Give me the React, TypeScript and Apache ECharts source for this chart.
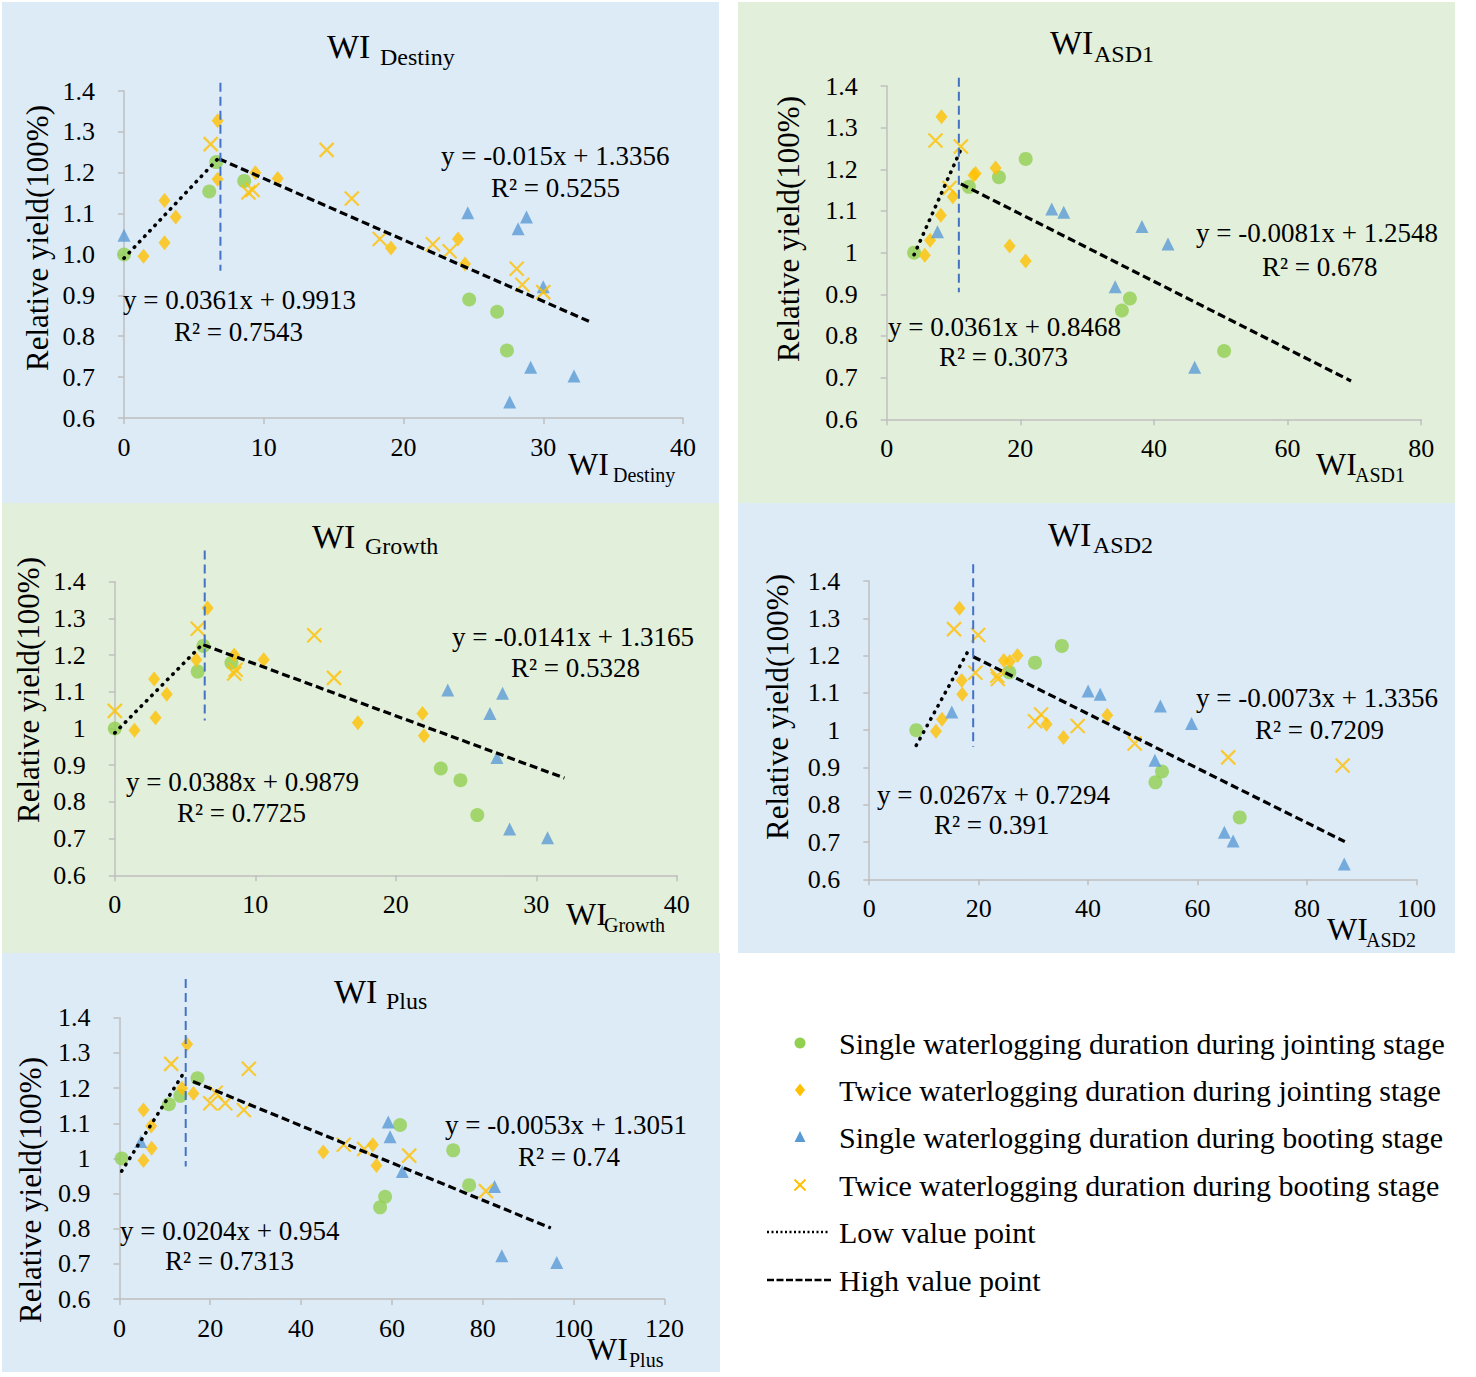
import React, { useEffect, useRef } from "react";
import * as echarts from "echarts";

const FONT = '"Liberation Serif", "Times New Roman", serif';
const C_SJ = "#92D050";
const C_TJ = "#FFC000";
const C_SB = "#5B9BD5";
const C_TB = "#FFC000";
const BG_BLUE = "#DDEBF7";
const BG_GREEN = "#E2EFDA";

// ---------- tick labels ----------
const yTicks = [0.6, 0.7, 0.8, 0.9, 1.0, 1.1, 1.2, 1.3, 1.4];
const xTicksDestiny = [0, 10, 20, 30, 40];
const xTicksASD1 = [0, 20, 40, 60, 80];
const xTicksGrowth = [0, 10, 20, 30, 40];
const xTicksASD2 = [0, 20, 40, 60, 80, 100];
const xTicksPlus = [0, 20, 40, 60, 80, 100, 120];

// ---------- series names ----------
const seriesNames = [
  "Single waterlogging duration during jointing stage",
  "Twice waterlogging duration during jointing stage",
  "Single waterlogging duration during booting stage",
  "Twice waterlogging duration during booting stage",
];
const lineNames = ["Low value point", "High value point"];

// ---------- WI Destiny ----------
const sjDestiny = [[0, 1.0], [6.1, 1.154], [6.6, 1.226], [8.6, 1.18], [24.7, 0.89], [26.7, 0.86], [27.4, 0.765]];
const tjDestiny = [[1.4, 0.996], [2.9, 1.132], [2.9, 1.029], [3.7, 1.092], [6.7, 1.327], [6.7, 1.184], [9.4, 1.2], [11.0, 1.186], [19.1, 1.016], [23.9, 1.038], [24.4, 0.977]];
const sbDestiny = [[0, 1.047], [24.6, 1.102], [28.2, 1.063], [28.8, 1.092], [30.0, 0.921], [29.1, 0.724], [32.2, 0.703], [27.6, 0.639]];
const tbDestiny = [[6.2, 1.27], [8.9, 1.152], [9.2, 1.158], [14.5, 1.256], [16.3, 1.137], [18.3, 1.038], [22.1, 1.025], [23.3, 1.008], [28.1, 0.965], [28.5, 0.926], [30.0, 0.908]];
const lowDestiny = [[0, 0.991], [6.8, 1.237]];
const highDestiny = [[6.8, 1.234], [33.5, 0.833]];
const splitDestiny = [[6.9, 1.42], [6.9, 0.96]];
const eqDestiny = ["y = 0.0361x + 0.9913", "R² = 0.7543", "y = -0.015x + 1.3356", "R² = 0.5255"];

// ---------- WI ASD1 ----------
const sjASD1 = [[4.1, 1.0], [12.3, 1.158], [16.8, 1.181], [20.8, 1.225], [36.4, 0.89], [35.2, 0.861], [50.5, 0.764]];
const tjASD1 = [[5.7, 0.994], [6.5, 1.03], [8.1, 1.09], [8.2, 1.326], [9.9, 1.134], [13.0, 1.186], [13.3, 1.19], [16.3, 1.203], [18.4, 1.016], [20.8, 0.98]];
const sbASD1 = [[7.6, 1.05], [24.7, 1.105], [26.5, 1.097], [38.2, 1.063], [42.1, 1.021], [34.2, 0.918], [46.1, 0.725]];
const tbASD1 = [[7.3, 1.269], [11.1, 1.255], [9.4, 1.155]];
const lowASD1 = [[4.1, 0.995], [11.0, 1.244]];
const highASD1 = [[11.1, 1.165], [69.5, 0.692]];
const splitASD1 = [[10.8, 1.42], [10.8, 0.905]];
const eqASD1 = ["y = 0.0361x + 0.8468", "R² = 0.3073", "y = -0.0081x + 1.2548", "R² = 0.678"];

// ---------- WI Growth ----------
const sjGrowth = [[0, 1.0], [5.9, 1.155], [6.3, 1.225], [8.3, 1.179], [23.2, 0.891], [24.6, 0.859], [25.8, 0.764]];
const tjGrowth = [[1.4, 0.995], [2.8, 1.135], [2.9, 1.029], [3.7, 1.093], [6.6, 1.328], [5.8, 1.187], [8.5, 1.2], [10.6, 1.187], [17.3, 1.016], [21.9, 1.041], [22.0, 0.98]];
const sbGrowth = [[23.7, 1.105], [27.6, 1.096], [26.7, 1.041], [27.2, 0.921], [28.1, 0.726], [30.8, 0.702]];
const tbGrowth = [[0, 1.048], [5.9, 1.272], [8.5, 1.15], [8.6, 1.16], [14.2, 1.254], [15.6, 1.138]];
const lowGrowth = [[0, 0.988], [6.3, 1.232]];
const highGrowth = [[6.3, 1.228], [32.0, 0.865]];
const splitGrowth = [[6.4, 1.485], [6.4, 1.022]];
const eqGrowth = ["y = 0.0388x + 0.9879", "R² = 0.7725", "y = -0.0141x + 1.3165", "R² = 0.5328"];

// ---------- WI ASD2 ----------
const sjASD2 = [[8.6, 1.0], [25.6, 1.155], [30.3, 1.181], [35.2, 1.226], [52.3, 0.86], [53.5, 0.889], [67.7, 0.766]];
const tjASD2 = [[12.2, 0.997], [13.3, 1.029], [17.0, 1.096], [16.9, 1.133], [16.5, 1.327], [24.6, 1.187], [25.7, 1.184], [27.1, 1.2], [32.4, 1.016], [35.5, 0.98], [43.5, 1.04]];
const sbASD2 = [[15.1, 1.049], [40.0, 1.105], [42.2, 1.096], [53.2, 1.065], [58.9, 1.018], [52.2, 0.919], [64.9, 0.726], [66.5, 0.703], [86.8, 0.641]];
const tbASD2 = [[15.5, 1.271], [19.9, 1.255], [19.4, 1.154], [23.4, 1.146], [23.5, 1.137], [30.3, 1.024], [31.4, 1.042], [38.1, 1.011], [48.5, 0.964], [65.6, 0.927], [86.5, 0.905]];
const lowASD2 = [[8.6, 0.959], [18.0, 1.21]];
const highASD2 = [[19.0, 1.197], [86.9, 0.701]];
const splitASD2 = [[19.0, 1.445], [19.0, 0.955]];
const eqASD2 = ["y = 0.0267x + 0.7294", "R² = 0.391", "y = -0.0073x + 1.3356", "R² = 0.7209"];

// ---------- WI Plus ----------
const sjPlus = [[0.5, 1.0], [10.9, 1.154], [13.4, 1.178], [17.2, 1.228], [61.8, 1.095], [73.5, 1.023], [77.0, 0.924], [58.5, 0.891], [57.4, 0.861]];
const tjPlus = [[5.3, 0.994], [5.3, 1.138], [7.1, 1.029], [7.0, 1.092], [13.8, 1.2], [14.9, 1.325], [16.3, 1.185], [44.9, 1.018], [55.8, 1.039], [56.6, 0.98]];
const sbPlus = [[4.7, 1.048], [59.2, 1.104], [59.6, 1.062], [62.3, 0.963], [82.6, 0.92], [84.2, 0.723], [96.3, 0.704]];
const tbPlus = [[11.4, 1.269], [28.5, 1.255], [20.0, 1.157], [21.2, 1.187], [23.3, 1.157], [27.4, 1.138], [49.4, 1.039], [53.9, 1.027], [63.8, 1.008], [80.7, 0.907]];
const lowPlus = [[0.5, 0.964], [14.5, 1.25]];
const highPlus = [[16.2, 1.219], [95.0, 0.802]];
const splitPlus = [[14.6, 1.51], [14.6, 0.977]];
const eqPlus = ["y = 0.0204x + 0.954", "R² = 0.7313", "y = -0.0053x + 1.3051", "R² = 0.74"];

// ---------- panel layout (pixels) ----------
const panels = [
  {
    sub: "Destiny", xTicks: xTicksDestiny, oneDecimal: true,
    bg: [2, 2, 717, 501], bgColor: BG_BLUE,
    grid: [124, 91, 559, 327],
    title: [327, 46, 380, 57], xname: [568, 464, 613, 475], yname: [37, 238],
    eqPos: [[123, 300], [174, 332], [441, 156], [491, 188]],
    data: [sjDestiny, tjDestiny, sbDestiny, tbDestiny], low: lowDestiny, high: highDestiny, split: splitDestiny, eq: eqDestiny,
  },
  {
    sub: "ASD1", xTicks: xTicksASD1, oneDecimal: false,
    bg: [738, 2, 717, 501], bgColor: BG_GREEN,
    grid: [886.7, 86, 534.5, 333.3],
    title: [1050, 42, 1094, 54], xname: [1316, 464, 1355, 475], yname: [788, 229],
    eqPos: [[888, 327], [939, 357], [1196, 233], [1262, 267]],
    data: [sjASD1, tjASD1, sbASD1, tbASD1], low: lowASD1, high: highASD1, split: splitASD1, eq: eqASD1,
  },
  {
    sub: "Growth", xTicks: xTicksGrowth, oneDecimal: false,
    bg: [2, 503, 717, 450], bgColor: BG_GREEN,
    grid: [114.8, 581.7, 562, 293.6],
    title: [312, 536, 365, 546], xname: [566, 914, 604, 925], yname: [28, 690],
    eqPos: [[126, 782], [177, 813], [452, 637], [511, 668]],
    data: [sjGrowth, tjGrowth, sbGrowth, tbGrowth], low: lowGrowth, high: highGrowth, split: splitGrowth, eq: eqGrowth,
  },
  {
    sub: "ASD2", xTicks: xTicksASD2, oneDecimal: false,
    bg: [738, 503, 717, 450], bgColor: BG_BLUE,
    grid: [869.2, 581, 547.3, 298.3],
    title: [1048, 534, 1093, 545], xname: [1327, 929, 1366, 940], yname: [777, 707],
    eqPos: [[877, 795], [934, 825], [1196, 698], [1255, 730]],
    data: [sjASD2, tjASD2, sbASD2, tbASD2], low: lowASD2, high: highASD2, split: splitASD2, eq: eqASD2,
  },
  {
    sub: "Plus", xTicks: xTicksPlus, oneDecimal: false,
    bg: [2, 953, 718, 419], bgColor: BG_BLUE,
    grid: [119.4, 1017.8, 545, 281.3],
    title: [334, 991, 386, 1001], xname: [587, 1349, 629, 1360], yname: [30, 1190],
    eqPos: [[120, 1231], [165, 1261], [445, 1125], [518, 1157]],
    data: [sjPlus, tjPlus, sbPlus, tbPlus], low: lowPlus, high: highPlus, split: splitPlus, eq: eqPlus,
  },
];

const CROSS = "path://M0,0L10,10M10,0L0,10";

function text(x: number, y: number, s: string, size: number, extra: any = {}) {
  return {
    type: "text",
    x,
    y,
    z: 100,
    silent: true,
    ...extra,
    style: { text: s, fill: "#000", fontSize: size, fontFamily: FONT, align: "left", verticalAlign: "middle", ...(extra.style || {}) },
  };
}

function buildOption() {
  const grid: any[] = [];
  const xAxis: any[] = [];
  const yAxis: any[] = [];
  const series: any[] = [];
  const graphic: any[] = [];
  const axisLineStyle = { color: "#BFBFBF", width: 1.5 };

  panels.forEach((p, i) => {
    const [gl, gt, gw, gh] = p.grid;
    grid.push({ left: gl, top: gt, width: gw, height: gh, containLabel: false });
    const xt = p.xTicks;
    xAxis.push({
      gridIndex: i, type: "value", min: xt[0], max: xt[xt.length - 1], interval: xt[1] - xt[0],
      axisLine: { show: true, lineStyle: axisLineStyle },
      axisTick: { show: true, length: 6, lineStyle: axisLineStyle },
      splitLine: { show: false },
      axisLabel: { fontFamily: FONT, fontSize: 26, color: "#000", margin: 16 },
    });
    yAxis.push({
      gridIndex: i, type: "value", min: yTicks[0], max: yTicks[yTicks.length - 1], interval: 0.1,
      axisLine: { show: true, lineStyle: axisLineStyle },
      axisTick: { show: true, length: 6, lineStyle: axisLineStyle },
      splitLine: { show: false },
      axisLabel: {
        fontFamily: FONT, fontSize: 26, color: "#000", margin: 29,
        formatter: (v: number) => (p.oneDecimal ? v.toFixed(1) : String(Number(v.toFixed(1)))),
      },
    });

    const [sj, tj, sb, tb] = p.data;
    series.push({ type: "scatter", name: seriesNames[0], xAxisIndex: i, yAxisIndex: i, data: sj, symbol: "circle", symbolSize: 14, itemStyle: { color: C_SJ }, z: 3 });
    series.push({ type: "scatter", name: seriesNames[1], xAxisIndex: i, yAxisIndex: i, data: tj, symbol: "diamond", symbolSize: [12, 15], itemStyle: { color: C_TJ }, z: 3 });
    series.push({ type: "scatter", name: seriesNames[2], xAxisIndex: i, yAxisIndex: i, data: sb, symbol: "triangle", symbolSize: [13, 13], itemStyle: { color: C_SB }, z: 3 });
    series.push({ type: "scatter", name: seriesNames[3], xAxisIndex: i, yAxisIndex: i, data: tb, symbol: CROSS, symbolSize: 14, itemStyle: { color: "rgba(0,0,0,0)", borderColor: C_TB, borderWidth: 2.2 }, z: 3 });
    series.push({ type: "line", name: lineNames[0], xAxisIndex: i, yAxisIndex: i, data: p.low, symbol: "none", clip: false, lineStyle: { color: "#000", width: 3.6, type: [0.5, 7], cap: "round" }, z: 4 });
    series.push({ type: "line", name: lineNames[1], xAxisIndex: i, yAxisIndex: i, data: p.high, symbol: "none", clip: false, lineStyle: { color: "#000", width: 3.2, type: [8, 4] }, z: 4 });
    series.push({ type: "line", name: "split", xAxisIndex: i, yAxisIndex: i, data: p.split, symbol: "none", clip: false, lineStyle: { color: "#4472C4", width: 2, type: [9, 5] }, z: 4 });

    const [bx, by, bw, bh] = p.bg;
    graphic.push({ type: "rect", z: -10, silent: true, shape: { x: bx, y: by, width: bw, height: bh }, style: { fill: p.bgColor } });
    // title
    graphic.push(text(p.title[0], p.title[1], "WI", 34));
    graphic.push(text(p.title[2], p.title[3], p.sub, 24));
    // x axis name
    graphic.push(text(p.xname[0], p.xname[1], "WI", 32));
    graphic.push(text(p.xname[2], p.xname[3], p.sub, 20));
    // y axis name
    graphic.push(text(p.yname[0], p.yname[1], "Relative yield(100%)", 31, { rotation: Math.PI / 2, style: { align: "center" } }));
    // equations
    p.eq.forEach((s, k) => graphic.push(text(p.eqPos[k][0], p.eqPos[k][1], s, 27)));
  });

  // legend
  const lx = 800;
  const tx = 839;
  const rows = [1043, 1090, 1137, 1185, 1232, 1280];
  graphic.push({ type: "circle", z: 100, shape: { cx: lx, cy: rows[0], r: 5.5 }, style: { fill: C_SJ } });
  graphic.push({ type: "polygon", z: 100, shape: { points: [[lx, rows[1] - 6.5], [lx + 5, rows[1]], [lx, rows[1] + 6.5], [lx - 5, rows[1]]] }, style: { fill: C_TJ } });
  graphic.push({ type: "polygon", z: 100, shape: { points: [[lx, rows[2] - 6], [lx + 5.5, rows[2] + 5], [lx - 5.5, rows[2] + 5]] }, style: { fill: C_SB } });
  graphic.push({ type: "line", z: 100, shape: { x1: lx - 5.5, y1: rows[3] - 5.5, x2: lx + 5.5, y2: rows[3] + 5.5 }, style: { stroke: C_TB, lineWidth: 2 } });
  graphic.push({ type: "line", z: 100, shape: { x1: lx + 5.5, y1: rows[3] - 5.5, x2: lx - 5.5, y2: rows[3] + 5.5 }, style: { stroke: C_TB, lineWidth: 2 } });
  graphic.push({ type: "line", z: 100, shape: { x1: 767, y1: rows[4], x2: 828, y2: rows[4] }, style: { stroke: "#000", lineWidth: 2.5, lineDash: [2, 2.5] } });
  graphic.push({ type: "line", z: 100, shape: { x1: 767, y1: rows[5], x2: 832, y2: rows[5] }, style: { stroke: "#000", lineWidth: 2.5, lineDash: [7, 2.5] } });
  [...seriesNames, ...lineNames].forEach((s, k) => graphic.push(text(tx, rows[k], s, 30)));

  return { animation: false, backgroundColor: "#fff", grid, xAxis, yAxis, series, graphic };
}

export default function App() {
  const ref = useRef<HTMLDivElement>(null);
  useEffect(() => {
    if (!ref.current) return;
    const chart = echarts.init(ref.current, undefined, { renderer: "svg" });
    chart.setOption(buildOption() as any);
    return () => chart.dispose();
  }, []);
  return <div ref={ref} style={{ position: "absolute", left: 0, top: 0, width: 1476, height: 1377 }} />;
}
